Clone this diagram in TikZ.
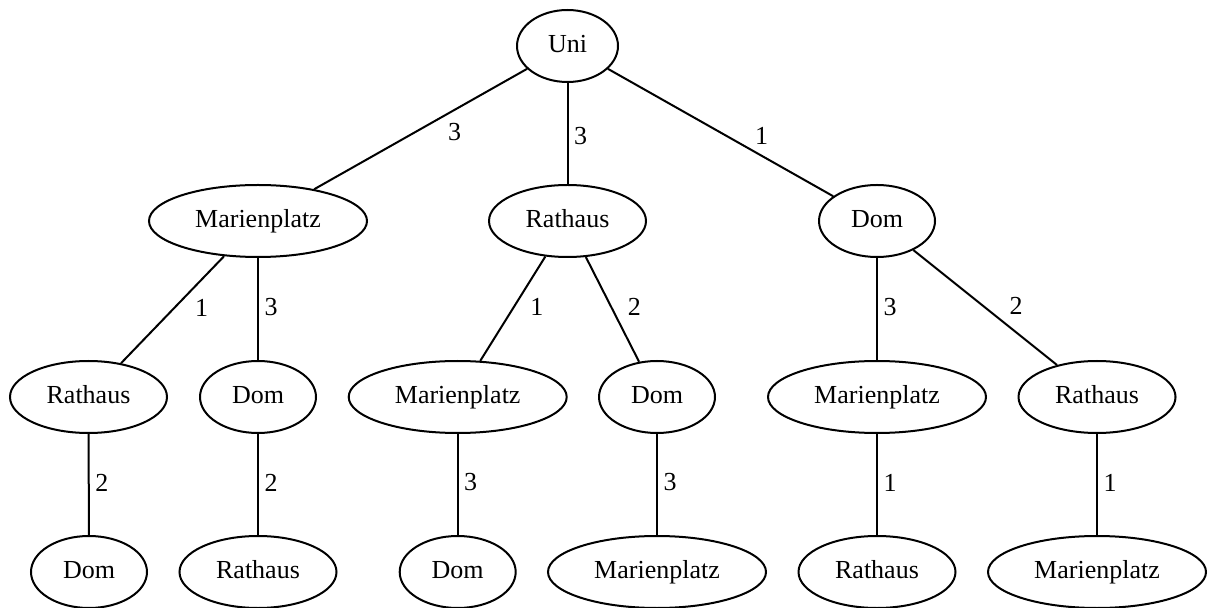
\documentclass[tikz,border=0pt]{standalone}
\usepackage{fontspec}
\setmainfont{Liberation Serif}
\usetikzlibrary{shapes.geometric}
\tikzset{
  nd/.style={draw, ellipse, line width=1pt, inner sep=0pt, minimum height=36pt,
    text height=9pt, text depth=2.3pt, font=\fontsize{13}{15}\selectfont},
  wuni/.style={nd, minimum width=50.5pt},
  wmar/.style={nd, minimum width=109pt},
  wrat/.style={nd, minimum width=78.5pt},
  wdom/.style={nd, minimum width=58pt},
  edge/.style={line width=1pt},
  lbl/.style={midway, inner sep=0pt, font=\fontsize{13}{15}\selectfont}
}
\begin{document}
\begin{tikzpicture}[x=0.5pt, y=-0.5pt]
\useasboundingbox (0,0) rectangle (1208,608);
% level 0
\node[wuni] (uni) at (567.5,46) {Uni};
% level 1
\node[wmar] (m1) at (258,221) {Marienplatz};
\node[wrat] (r1) at (567.5,221) {Rathaus};
\node[wdom] (d1) at (877,221) {Dom};
% level 2
\node[wrat] (r2a) at (88.5,397) {Rathaus};
\node[wdom] (d2a) at (258,397) {Dom};
\node[wmar] (m2b) at (457.7,397) {Marienplatz};
\node[wdom] (d2b) at (657,397) {Dom};
\node[wmar] (m2c) at (877,397) {Marienplatz};
\node[wrat] (r2c) at (1097,397) {Rathaus};
% level 3
\node[wdom] (d3a) at (89,572) {Dom};
\node[wrat] (r3a) at (258,572) {Rathaus};
\node[wdom] (d3b) at (457.7,572) {Dom};
\node[wmar] (m3b) at (657,572) {Marienplatz};
\node[wrat] (r3c) at (877,572) {Rathaus};
\node[wmar] (m3c) at (1097,572) {Marienplatz};
% edges
\draw[edge] (uni) -- node[lbl, xshift=17pt, yshift=-1.5pt] {3} (m1);
\draw[edge] (uni) -- node[lbl, xshift=6.5pt, yshift=-1.5pt] {3} (r1);
\draw[edge] (uni) -- node[lbl, xshift=20.5pt, yshift=-1.5pt] {1} (d1);
\draw[edge] (m1) -- node[lbl, xshift=14.5pt, yshift=1pt] {1} (r2a);
\draw[edge] (m1) -- node[lbl, xshift=6.5pt, yshift=1pt] {3} (d2a);
\draw[edge] (r1) -- node[lbl, xshift=12pt, yshift=1pt] {1} (m2b);
\draw[edge] (r1) -- node[lbl, xshift=11pt, yshift=1pt] {2} (d2b);
\draw[edge] (d1) -- node[lbl, xshift=6.5pt, yshift=1pt] {3} (m2c);
\draw[edge] (d1) -- node[lbl, xshift=15.5pt, yshift=1pt] {2} (r2c);
\draw[edge] (r2a) -- node[lbl, xshift=6.5pt, yshift=1pt] {2} (d3a);
\draw[edge] (d2a) -- node[lbl, xshift=6.5pt, yshift=1pt] {2} (r3a);
\draw[edge] (m2b) -- node[lbl, xshift=6.5pt, yshift=1pt] {3} (d3b);
\draw[edge] (d2b) -- node[lbl, xshift=6.5pt, yshift=1pt] {3} (m3b);
\draw[edge] (m2c) -- node[lbl, xshift=6.5pt, yshift=1pt] {1} (r3c);
\draw[edge] (r2c) -- node[lbl, xshift=6.5pt, yshift=1pt] {1} (m3c);
\end{tikzpicture}
\end{document}
